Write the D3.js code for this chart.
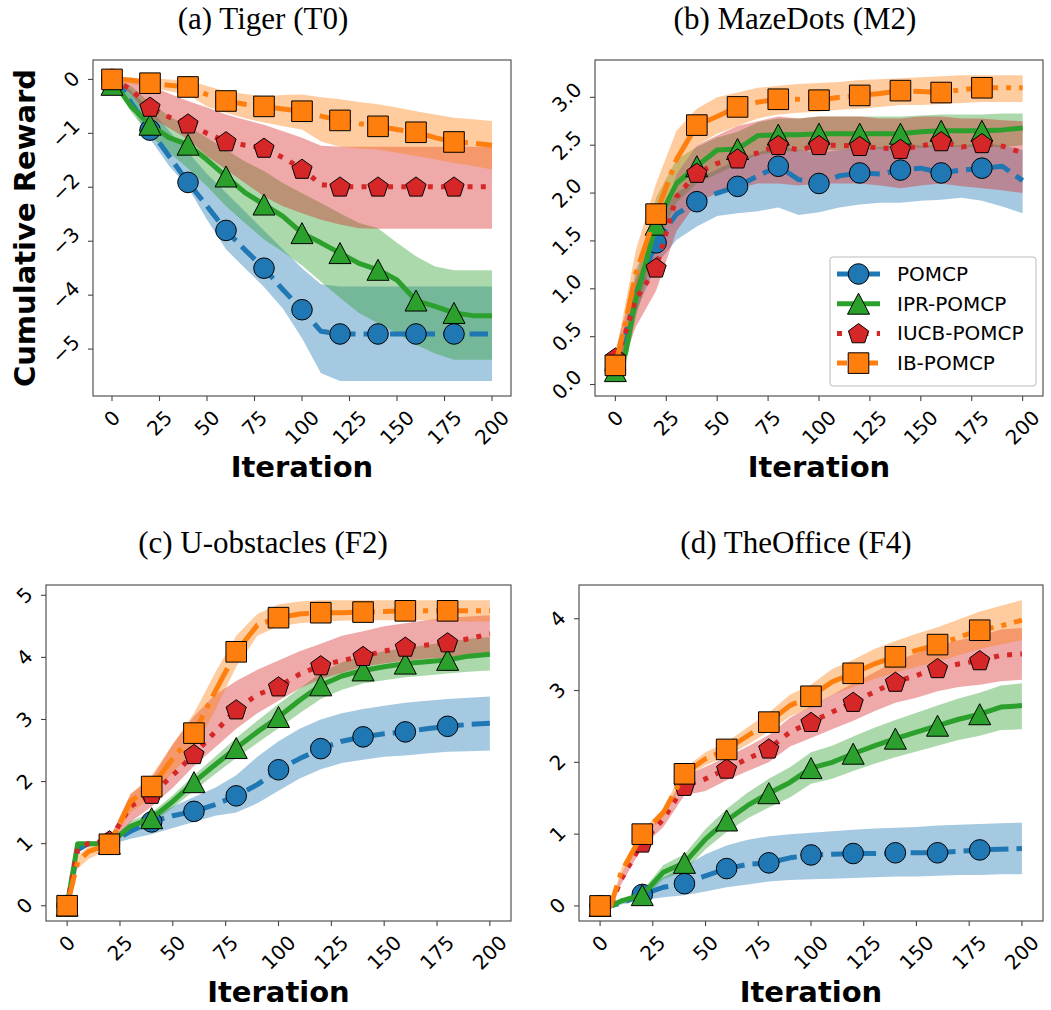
<!DOCTYPE html>
<html>
<head>
<meta charset="utf-8">
<script src="https://cdn.jsdelivr.net/npm/d3@7"></script>
<style>
  body { margin: 0; background: #fff; }
  svg text { fill: #000; }
</style>
</head>
<body>
<svg id="fig" width="1051" height="1010"></svg>
<script>
var iters = [0,5,10,20,30,40,50,60,70,80,90,100,110,120,130,140,150,160,170,180,190,200];
var methods = ['POMCP', 'IPR-POMCP', 'IUCB-POMCP', 'IB-POMCP'];
var xTicks = [0,25,50,75,100,125,150,175,200];

// (a) Tiger (T0)
var tigerMean = {
  'POMCP':      [0,-0.15,-0.43,-0.94,-1.42,-1.91,-2.35,-2.80,-3.16,-3.50,-3.90,-4.27,-4.67,-4.72,-4.72,-4.72,-4.72,-4.72,-4.72,-4.72,-4.72,-4.72],
  'IPR-POMCP':  [-0.1,-0.25,-0.5,-0.84,-1.08,-1.21,-1.49,-1.80,-2.10,-2.32,-2.54,-2.85,-3.03,-3.22,-3.41,-3.53,-3.72,-4.10,-4.21,-4.33,-4.38,-4.38],
  'IUCB-POMCP': [0,-0.08,-0.19,-0.51,-0.70,-0.82,-1.00,-1.15,-1.22,-1.27,-1.45,-1.66,-1.95,-1.99,-1.99,-1.99,-1.99,-1.99,-1.99,-1.99,-1.99,-1.99],
  'IB-POMCP':   [0,0,-0.01,-0.07,-0.11,-0.14,-0.28,-0.40,-0.46,-0.50,-0.55,-0.59,-0.68,-0.76,-0.82,-0.87,-0.93,-0.98,-1.08,-1.16,-1.18,-1.22]
};
var tigerLow = {
  'POMCP':      [0,-0.2,-0.5,-1.1,-1.6,-2.0,-2.6,-3.15,-3.5,-3.85,-4.25,-4.8,-5.45,-5.59,-5.59,-5.59,-5.59,-5.59,-5.59,-5.59,-5.59,-5.59],
  'IPR-POMCP':  [-0.1,-0.3,-0.6,-1.05,-1.35,-1.65,-1.98,-2.35,-2.66,-2.97,-3.2,-3.45,-3.75,-4.05,-4.33,-4.52,-4.71,-4.92,-5.08,-5.2,-5.2,-5.2],
  'IUCB-POMCP': [0,-0.12,-0.28,-0.7,-0.9,-1.11,-1.42,-1.67,-1.92,-2.17,-2.35,-2.48,-2.6,-2.69,-2.76,-2.77,-2.77,-2.77,-2.77,-2.77,-2.77,-2.77],
  'IB-POMCP':   [0,-0.05,-0.08,-0.15,-0.22,-0.28,-0.5,-0.62,-0.72,-0.8,-0.87,-0.93,-1.15,-1.25,-1.28,-1.3,-1.36,-1.42,-1.48,-1.55,-1.6,-1.67]
};
var tigerHigh = {
  'POMCP':      [0,-0.08,-0.2,-0.55,-0.95,-1.35,-1.75,-2.1,-2.45,-2.8,-3.15,-3.5,-3.8,-3.84,-3.84,-3.84,-3.84,-3.84,-3.84,-3.84,-3.84,-3.84],
  'IPR-POMCP':  [-0.05,-0.05,-0.12,-0.43,-0.68,-0.87,-1.08,-1.30,-1.52,-1.70,-1.92,-2.11,-2.29,-2.48,-2.66,-2.76,-3.03,-3.28,-3.47,-3.54,-3.54,-3.54],
  'IUCB-POMCP': [0,0,-0.03,-0.12,-0.26,-0.40,-0.52,-0.65,-0.75,-0.84,-0.96,-1.08,-1.23,-1.25,-1.25,-1.25,-1.25,-1.25,-1.25,-1.25,-1.25,-1.25],
  'IB-POMCP':   [0.05,0.03,0.02,0.03,0,-0.02,-0.12,-0.22,-0.27,-0.31,-0.29,-0.28,-0.33,-0.37,-0.42,-0.46,-0.52,-0.59,-0.65,-0.71,-0.74,-0.77]
};

// (b) MazeDots (M2)
var mazeMean = {
  'POMCP':      [0.15,0.5,0.95,1.48,1.78,1.91,2.0,2.07,2.18,2.28,2.14,2.10,2.18,2.21,2.2,2.24,2.26,2.21,2.24,2.26,2.28,2.13],
  'IPR-POMCP':  [0.14,0.33,0.89,1.67,2.10,2.28,2.45,2.46,2.60,2.61,2.61,2.62,2.62,2.62,2.62,2.62,2.64,2.65,2.65,2.65,2.66,2.68],
  'IUCB-POMCP': [0.28,0.54,0.89,1.22,1.96,2.21,2.31,2.36,2.42,2.50,2.45,2.50,2.50,2.49,2.47,2.46,2.49,2.54,2.48,2.52,2.49,2.42],
  'IB-POMCP':   [0.20,0.65,1.16,1.78,2.35,2.71,2.80,2.90,2.95,2.98,2.98,2.97,3.0,3.02,3.04,3.07,3.06,3.05,3.08,3.10,3.10,3.10]
};
var mazeLow = {
  'POMCP':      [0.1,0.35,0.75,1.25,1.51,1.65,1.76,1.79,1.81,1.85,1.77,1.8,1.85,1.88,1.9,1.9,1.92,1.93,1.95,1.92,1.86,1.79],
  'IPR-POMCP':  [0.05,0.2,0.7,1.45,1.9,2.1,2.2,2.3,2.4,2.43,2.44,2.45,2.45,2.46,2.46,2.47,2.47,2.48,2.48,2.48,2.48,2.5],
  'IUCB-POMCP': [0.2,0.3,0.6,0.98,1.6,1.9,2.0,2.05,2.1,2.1,2.08,2.1,2.1,2.1,2.08,2.05,2.08,2.1,2.07,2.05,2.03,2.0],
  'IB-POMCP':   [0.12,0.45,0.95,1.55,2.2,2.5,2.62,2.7,2.78,2.82,2.84,2.85,2.87,2.88,2.9,2.92,2.92,2.93,2.94,2.95,2.95,2.95]
};
var mazeHigh = {
  'POMCP':      [0.2,0.65,1.2,1.7,2.0,2.15,2.25,2.35,2.42,2.5,2.45,2.42,2.45,2.47,2.48,2.5,2.5,2.5,2.5,2.52,2.5,2.45],
  'IPR-POMCP':  [0.2,0.5,1.1,1.95,2.35,2.48,2.58,2.64,2.74,2.78,2.78,2.8,2.8,2.8,2.8,2.8,2.81,2.82,2.82,2.82,2.83,2.83],
  'IUCB-POMCP': [0.35,0.75,1.1,1.5,2.2,2.5,2.6,2.7,2.75,2.8,2.78,2.8,2.8,2.8,2.78,2.78,2.8,2.8,2.78,2.78,2.76,2.75],
  'IB-POMCP':   [0.3,0.85,1.4,2.1,2.65,2.88,3.0,3.05,3.1,3.12,3.14,3.15,3.16,3.18,3.19,3.2,3.21,3.22,3.23,3.23,3.23,3.23]
};

// (c) U-obstacles (F2)
var uobsMean = {
  'POMCP':      [0,0.9,1.0,1.0,1.2,1.35,1.45,1.52,1.63,1.77,1.95,2.19,2.37,2.53,2.65,2.72,2.77,2.80,2.85,2.89,2.92,2.94],
  'IPR-POMCP':  [0,1.0,1.0,1.0,1.28,1.41,1.68,1.99,2.27,2.54,2.8,3.04,3.31,3.55,3.70,3.79,3.85,3.9,3.93,3.96,4.02,4.05],
  'IUCB-POMCP': [0,0.93,1.0,1.05,1.6,1.8,2.1,2.44,2.8,3.16,3.4,3.53,3.73,3.87,3.95,4.02,4.1,4.17,4.2,4.24,4.3,4.38],
  'IB-POMCP':   [0,0.71,0.87,0.99,1.68,1.92,2.37,2.78,3.45,4.09,4.52,4.64,4.7,4.72,4.72,4.73,4.74,4.75,4.75,4.75,4.75,4.75]
};
var uobsLow = {
  'POMCP':      [0,0.85,0.98,0.98,1.08,1.15,1.25,1.35,1.45,1.5,1.65,1.85,2.05,2.2,2.3,2.35,2.4,2.42,2.45,2.48,2.49,2.5],
  'IPR-POMCP':  [0,0.95,0.98,0.98,1.2,1.33,1.58,1.85,2.12,2.38,2.62,2.86,3.1,3.33,3.48,3.58,3.63,3.68,3.71,3.74,3.77,3.79],
  'IUCB-POMCP': [0,0.85,0.98,0.98,1.35,1.6,1.9,2.25,2.55,2.85,3.1,3.3,3.5,3.65,3.75,3.85,3.9,3.95,3.98,4.0,4.03,4.05],
  'IB-POMCP':   [0,0.6,0.75,0.92,1.5,1.75,2.15,2.5,3.15,3.85,4.35,4.5,4.55,4.58,4.59,4.6,4.6,4.6,4.6,4.59,4.58,4.58]
};
var uobsHigh = {
  'POMCP':      [0,0.95,1.02,1.02,1.3,1.45,1.6,1.75,1.9,2.1,2.4,2.65,2.85,3.0,3.1,3.17,3.22,3.27,3.3,3.33,3.35,3.37],
  'IPR-POMCP':  [0,1.02,1.02,1.03,1.36,1.5,1.78,2.1,2.4,2.7,2.98,3.25,3.5,3.75,3.92,4.03,4.1,4.15,4.2,4.25,4.3,4.33],
  'IUCB-POMCP': [0,1.0,1.02,1.08,1.8,2.05,2.6,3.05,3.4,3.62,3.8,3.95,4.1,4.22,4.35,4.42,4.5,4.55,4.6,4.64,4.66,4.68],
  'IB-POMCP':   [0,0.8,0.95,1.05,1.8,2.1,2.6,3.1,3.75,4.35,4.7,4.85,4.9,4.92,4.92,4.92,4.92,4.92,4.92,4.92,4.92,4.92]
};

// (d) TheOffice (F4)
var officeMean = {
  'POMCP':      [0,0,0.04,0.16,0.26,0.31,0.42,0.52,0.58,0.60,0.67,0.71,0.72,0.73,0.73,0.74,0.74,0.74,0.76,0.78,0.79,0.80],
  'IPR-POMCP':  [0,0,0.07,0.15,0.47,0.60,0.93,1.19,1.4,1.57,1.72,1.92,2.0,2.12,2.23,2.33,2.42,2.51,2.6,2.67,2.77,2.79],
  'IUCB-POMCP': [0,0,0.37,0.88,1.21,1.67,1.77,1.91,2.05,2.19,2.42,2.56,2.70,2.84,2.98,3.12,3.21,3.31,3.37,3.42,3.49,3.51],
  'IB-POMCP':   [0,0,0.47,1.0,1.3,1.84,2.05,2.18,2.37,2.56,2.79,2.92,3.12,3.24,3.37,3.47,3.56,3.64,3.74,3.84,3.9,3.98]
};
var officeLow = {
  'POMCP':      [0,0,0.02,0.08,0.12,0.15,0.2,0.26,0.3,0.34,0.36,0.37,0.38,0.39,0.4,0.41,0.41,0.42,0.43,0.43,0.44,0.44],
  'IPR-POMCP':  [0,0,0.04,0.09,0.37,0.48,0.79,1.03,1.22,1.37,1.51,1.7,1.77,1.88,1.98,2.07,2.15,2.23,2.31,2.37,2.45,2.46],
  'IUCB-POMCP': [0,0,0.3,0.82,1.1,1.54,1.6,1.75,1.88,2.0,2.22,2.34,2.46,2.58,2.71,2.83,2.9,2.99,3.05,3.08,3.13,3.15],
  'IB-POMCP':   [0,0,0.42,0.95,1.24,1.76,1.96,2.08,2.25,2.43,2.64,2.76,2.94,3.05,3.16,3.25,3.33,3.4,3.49,3.58,3.64,3.7]
};
var officeHigh = {
  'POMCP':      [0,0,0.06,0.22,0.4,0.55,0.72,0.84,0.92,0.97,1.0,1.02,1.04,1.06,1.08,1.09,1.1,1.12,1.13,1.14,1.15,1.16],
  'IPR-POMCP':  [0,0,0.1,0.21,0.57,0.72,1.07,1.35,1.58,1.77,1.93,2.14,2.23,2.36,2.48,2.59,2.69,2.79,2.89,2.97,3.07,3.1],
  'IUCB-POMCP': [0,0,0.44,0.94,1.32,1.8,1.94,2.07,2.22,2.38,2.62,2.78,2.94,3.1,3.25,3.41,3.52,3.63,3.7,3.76,3.85,3.87],
  'IB-POMCP':   [0,0,0.52,1.05,1.36,1.92,2.14,2.28,2.49,2.69,2.94,3.08,3.3,3.43,3.58,3.69,3.79,3.88,3.99,4.1,4.18,4.26]
};

var styles = {
  'POMCP':      {color: '#1f77b4', dash: '18.5,8', legendDash: '18.5,6', marker: 'circle'},
  'IPR-POMCP':  {color: '#2ca02c', dash: null, legendDash: null, marker: 'triangle'},
  'IUCB-POMCP': {color: '#d62728', dash: '5,8.25', legendDash: '5,8.25', marker: 'pentagon'},
  'IB-POMCP':   {color: '#ff7f0e', dash: '32,8,5,8', legendDash: '10,8,5,8', marker: 'square'}
};

var panels = [
  {title: '(a) Tiger (T0)', titleX: 263, titleY: 29, left: 93, right: 511, top: 60, bottom: 396,
   yDomain: [-5.87, 0.36], yTicks: [0,-1,-2,-3,-4,-5], yFmt: d3.format('d'),
   mean: tigerMean, low: tigerLow, high: tigerHigh, yLabel: true},
  {title: '(b) MazeDots (M2)', titleX: 795, titleY: 29, left: 595, right: 1043, top: 60, bottom: 396,
   yDomain: [-0.12, 3.39], yTicks: [0,0.5,1,1.5,2,2.5,3], yFmt: d3.format('.1f'),
   mean: mazeMean, low: mazeLow, high: mazeHigh, legend: true},
  {title: '(c) U-obstacles (F2)', titleX: 263, titleY: 553, left: 46, right: 511, top: 585, bottom: 921,
   yDomain: [-0.246, 5.166], yTicks: [0,1,2,3,4,5], yFmt: d3.format('d'),
   mean: uobsMean, low: uobsLow, high: uobsHigh},
  {title: '(d) TheOffice (F4)', titleX: 796, titleY: 553, left: 579, right: 1043, top: 585, bottom: 921,
   yDomain: [-0.21, 4.47], yTicks: [0,1,2,3,4], yFmt: d3.format('d'),
   mean: officeMean, low: officeLow, high: officeHigh}
];

var svg = d3.select('#fig');
var tickFont = 20;

function fmtMinus(s) {
  return s.replace('-', '\u2212');
}

function markerPath(kind) {
  var p = d3.path();
  if (kind === 'circle') {
    p.arc(0, 0, 10.3, 0, 2 * Math.PI);
  } else if (kind === 'square') {
    p.rect(-10.3, -10.3, 20.6, 20.6);
  } else if (kind === 'triangle') {
    p.moveTo(0, -10.5); p.lineTo(11, 10.5); p.lineTo(-11, 10.5); p.closePath();
  } else {
    for (var k = 0; k < 5; k++) {
      var a = -Math.PI / 2 + k * 2 * Math.PI / 5;
      var px = 10.6 * Math.cos(a), py = 10.6 * Math.sin(a) + 0.8;
      if (k === 0) p.moveTo(px, py); else p.lineTo(px, py);
    }
    p.closePath();
  }
  return p.toString();
}

// rotated (45deg) tick label, placed by its rotated bounding box like matplotlib
function rotLabel(g, str, cx, cy, side) {
  var t = g.append('text')
    .attr('font-family', 'DejaVu Sans')
    .attr('font-size', tickFont)
    .attr('text-anchor', 'middle')
    .attr('dominant-baseline', 'central')
    .text(str);
  var w = t.node().getComputedTextLength();
  var half = (w + tickFont * 1.0) / (2 * Math.SQRT2);
  var x = cx, y = cy;
  if (side === 'bottom') y = cy + half;
  else x = cx - half;
  t.attr('transform', 'translate(' + x + ',' + y + ') rotate(-45)');
}

panels.forEach(function(P) {
  var g = svg.append('g');
  var x = d3.scaleLinear().domain([-10, 210]).range([P.left, P.right]);
  var y = d3.scaleLinear().domain(P.yDomain).range([P.bottom, P.top]);

  var area = d3.area()
    .x(function(d, i) { return x(iters[i]); })
    .y0(function(d) { return y(d[0]); })
    .y1(function(d) { return y(d[1]); });
  var line = d3.line()
    .x(function(d, i) { return x(iters[i]); })
    .y(function(d) { return y(d); });

  // bands first (behind all lines)
  methods.forEach(function(m) {
    var band = P.low[m].map(function(v, i) { return [v, P.high[m][i]]; });
    g.append('path')
      .attr('d', area(band))
      .attr('fill', styles[m].color)
      .attr('fill-opacity', 0.4);
  });

  // lines with their markers
  methods.forEach(function(m) {
    var st = styles[m];
    g.append('path')
      .attr('d', line(P.mean[m]))
      .attr('fill', 'none')
      .attr('stroke', st.color)
      .attr('stroke-width', 5)
      .attr('stroke-linejoin', 'round')
      .attr('stroke-dasharray', st.dash);
    var pts = [];
    iters.forEach(function(it, i) {
      if (it % 20 === 0 && it <= 180) pts.push([it, P.mean[m][i]]);
    });
    g.selectAll(null).data(pts).enter().append('path')
      .attr('d', markerPath(st.marker))
      .attr('transform', function(d) { return 'translate(' + x(d[0]) + ',' + y(d[1]) + ')'; })
      .attr('fill', st.color)
      .attr('stroke', '#000')
      .attr('stroke-width', 1);
  });

  // frame
  g.append('rect')
    .attr('x', P.left).attr('y', P.top)
    .attr('width', P.right - P.left).attr('height', P.bottom - P.top)
    .attr('fill', 'none').attr('stroke', '#444').attr('stroke-width', 1.1);

  // x ticks
  xTicks.forEach(function(v) {
    g.append('line')
      .attr('x1', x(v)).attr('x2', x(v))
      .attr('y1', P.bottom).attr('y2', P.bottom + 5)
      .attr('stroke', '#444').attr('stroke-width', 1.1);
    rotLabel(g, String(v), x(v), P.bottom + 11, 'bottom');
  });

  // y ticks
  P.yTicks.forEach(function(v) {
    g.append('line')
      .attr('x1', P.left - 5).attr('x2', P.left)
      .attr('y1', y(v)).attr('y2', y(v))
      .attr('stroke', '#444').attr('stroke-width', 1.1);
    rotLabel(g, fmtMinus(P.yFmt(v)), P.left - 10, y(v), 'left');
  });

  // titles and axis labels
  g.append('text')
    .attr('x', P.titleX).attr('y', P.titleY)
    .attr('text-anchor', 'middle')
    .attr('font-family', 'Liberation Serif')
    .attr('font-size', 31)
    .text(P.title);

  g.append('text')
    .attr('x', (P.left + P.right) / 2).attr('y', P.bottom + 81)
    .attr('text-anchor', 'middle')
    .attr('font-family', 'DejaVu Sans')
    .attr('font-weight', 'bold')
    .attr('font-size', 29)
    .text('Iteration');

  if (P.yLabel) {
    g.append('text')
      .attr('transform', 'translate(35,228) rotate(-90)')
      .attr('text-anchor', 'middle')
      .attr('font-family', 'DejaVu Sans')
      .attr('font-weight', 'bold')
      .attr('font-size', 29)
      .text('Cumulative Reward');
  }

  if (P.legend) {
    var lg = g.append('g');
    lg.append('rect')
      .attr('x', 830).attr('y', 257).attr('width', 206).attr('height', 129)
      .attr('rx', 3)
      .attr('fill', '#fff').attr('fill-opacity', 0.8)
      .attr('stroke', '#bbbbbb').attr('stroke-width', 1);
    methods.forEach(function(m, i) {
      var st = styles[m];
      var ly = 274 + i * 29.7;
      lg.append('line')
        .attr('x1', 837).attr('x2', 880).attr('y1', ly).attr('y2', ly)
        .attr('stroke', st.color).attr('stroke-width', 5)
        .attr('stroke-dasharray', st.legendDash);
      lg.append('path')
        .attr('d', markerPath(st.marker))
        .attr('transform', 'translate(858.5,' + ly + ')')
        .attr('fill', st.color).attr('stroke', '#000').attr('stroke-width', 1);
      lg.append('text')
        .attr('x', 897).attr('y', ly)
        .attr('dominant-baseline', 'central')
        .attr('font-family', 'DejaVu Sans')
        .attr('font-size', 20)
        .text(m);
    });
  }
});
</script>
</body>
</html>
